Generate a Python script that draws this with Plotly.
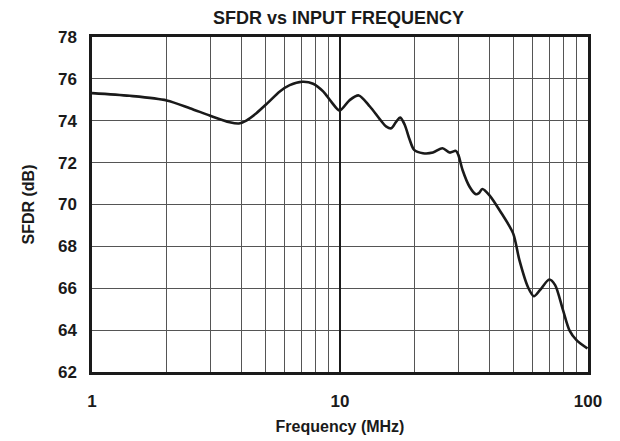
import plotly.graph_objects as go

# Data
freq_mhz = [1.0, 1.42, 2.0, 2.48, 2.98, 3.59, 3.91, 4.19, 4.60, 5.10, 5.72, 6.27, 7.05,
            7.79, 8.55, 9.23, 9.96, 10.9, 11.9, 13.2, 14.46, 15.38, 16.1, 16.86, 17.5,
            18.25, 19.1, 19.9, 21.6, 23.7, 25.9, 27.7, 29.3, 30.0, 31.2, 33.3, 35.3,
            36.3, 37.5, 40.0, 44.8, 49.9, 52.9, 57.2, 60.5, 64.0, 69.8, 73.7, 79.3,
            84.2, 89.9, 99.5]
sfdr_db = [75.32, 75.19, 74.97, 74.60, 74.25, 73.93, 73.87, 74.01, 74.36, 74.84, 75.40,
           75.70, 75.86, 75.77, 75.40, 74.90, 74.49, 74.97, 75.21, 74.68, 74.08, 73.72,
           73.64, 73.96, 74.15, 73.80, 73.09, 72.61, 72.45, 72.48, 72.69, 72.48, 72.56,
           72.37, 71.65, 70.85, 70.49, 70.54, 70.74, 70.45, 69.58, 68.62, 67.34, 66.07,
           65.62, 65.91, 66.42, 66.15, 64.95, 63.99, 63.52, 63.12]

x_major = [1, 10, 100]
x_major_labels = ["1", "10", "100"]
x_minor = [2, 3, 4, 5, 6, 7, 8, 9, 20, 30, 40, 50, 60, 70, 80, 90]
y_ticks = [62, 64, 66, 68, 70, 72, 74, 76, 78]

FONT = "Liberation Sans, Arial, sans-serif"
INK = "#1a1a1a"

fig = go.Figure()
fig.add_trace(go.Scatter(x=freq_mhz, y=sfdr_db, mode="lines",
                         line=dict(color=INK, width=2.6, shape="spline", smoothing=0.8),
                         hoverinfo="skip", showlegend=False))

fig.add_shape(type="line", xref="x", yref="paper", x0=10, x1=10, y0=0, y1=1,
              line=dict(color=INK, width=2))

fig.update_layout(
    width=620, height=441,
    margin=dict(l=84, r=40, t=29, b=77),
    paper_bgcolor="white", plot_bgcolor="white",
    title=dict(text="<b>SFDR vs INPUT FREQUENCY</b>", x=0.533, xanchor="center",
               y=0.979, yanchor="middle", yref="container",
               font=dict(family=FONT, size=18, color=INK)),
    font=dict(family=FONT, color=INK),
)

fig.update_xaxes(
    type="log", range=[0, 2],
    tickmode="array", tickvals=x_major, ticktext=[f"<b>{t}</b>" for t in x_major_labels],
    tickfont=dict(size=17, family=FONT, color=INK),
    ticks="", ticklabelstandoff=12,
    showgrid=True, gridcolor=INK, gridwidth=1.5,
    minor=dict(tickmode="array", tickvals=x_minor, showgrid=True, gridcolor="#555555",
               gridwidth=1, ticks=""),
    showline=True, linecolor=INK, linewidth=2.5, mirror=True,
    zeroline=False,
    title=dict(text="<b>Frequency (MHz)</b>", font=dict(size=16, family=FONT, color=INK),
               standoff=11),
)

fig.update_yaxes(
    range=[62, 78], tickmode="array", tickvals=y_ticks,
    ticktext=[f"<b>{v}</b>" for v in y_ticks],
    tickfont=dict(size=17, family=FONT, color=INK),
    ticks="", ticklabelstandoff=9,
    showgrid=True, gridcolor="#555555", gridwidth=1,
    showline=True, linecolor=INK, linewidth=2.5, mirror=True,
    zeroline=False,
    title=dict(text="<b>SFDR (dB)</b>", font=dict(size=16, family=FONT, color=INK),
               standoff=20),
)

fig.write_html("out.html")
